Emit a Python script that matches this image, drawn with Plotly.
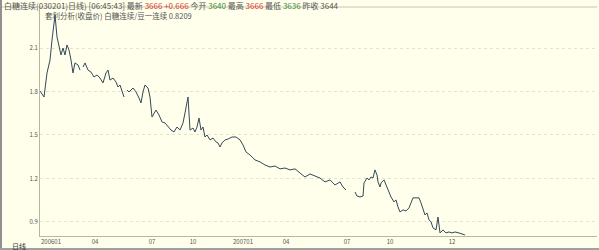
import plotly.graph_objects as go

# trading-day index and ratio (白糖连续 / 豆一连续 close)
day = [0,4,7,10,12,15,17,19,21,23,25,27,29,31,33,35,38,40,41,
       43,45,48,51,54,57,60,63,66,68,70,73,76,78,80,82,84,85,
       87,89,93,96,99,101,103,105,108,110,112,116,119,122,125,128,131,134,137,140,143,145,147,148,150,153,155,157,159,161,163,165,167,170,173,176,178,180,182,185,188,192,196,200,203,206,
       210,215,220,225,230,235,240,245,250,255,260,265,270,275,280,285,290,295,300,303,306,310,
       315,317,320,323,324,327,329,331,333,334,335,337,338,340,341,344,346,348,351,354,356,358,360,363,366,369,371,373,376,379,381,383,385,387,389,391,393,396,398,400,403,406,409,412,415,419,425]
ratio = [1.803,1.762,1.928,2.017,2.155,2.328,2.176,2.107,2.052,2.100,2.052,2.121,2.086,2.017,1.928,1.997,1.983,1.948,None,
         1.969,1.997,1.948,1.934,1.900,1.914,1.893,1.859,1.928,1.948,1.879,1.893,1.866,1.831,1.845,1.797,1.762,None,
         1.810,1.797,1.824,1.797,1.755,1.721,1.797,1.845,1.824,1.762,1.624,1.672,1.638,1.590,1.583,1.555,1.534,1.521,1.555,1.534,1.583,1.652,1.721,1.762,1.534,1.548,1.521,1.555,1.617,1.534,1.555,1.486,1.500,1.466,1.479,1.452,1.445,1.417,1.445,1.466,1.472,1.486,1.486,1.466,1.431,1.383,
         1.362,1.328,1.314,1.293,1.279,1.286,1.266,1.272,1.259,1.266,1.238,1.210,1.231,1.217,1.203,1.176,1.190,1.155,1.176,1.141,1.121,None,
         1.107,1.079,1.072,1.079,1.169,1.203,1.190,1.210,1.203,1.238,1.259,1.224,1.176,1.141,1.169,1.190,1.155,1.121,1.072,1.038,1.052,1.003,0.969,0.983,0.976,0.997,1.038,1.066,1.066,1.066,1.031,0.983,0.948,0.962,0.914,0.900,0.859,0.845,0.934,0.824,0.845,0.824,0.831,0.824,0.831,0.824,0.810]

tick_days = [11, 55, 112, 153, 203, 246, 307, 350, 412]
tick_text = ["200601", "04", "07", "10", "200701", "04", "07", "10", "12"]
y_ticks = [0.9, 1.2, 1.5, 1.8, 2.1]

BG = "#FFFFEB"
FONT = "Noto Sans CJK SC"

fig = go.Figure()
fig.add_trace(go.Scatter(x=day, y=ratio, mode="lines", connectgaps=False,
                         line=dict(color="#34485C", width=1), hoverinfo="skip"))

fig.update_layout(
    width=599, height=250,
    margin=dict(l=40, r=2, t=7, b=14),
    paper_bgcolor=BG, plot_bgcolor=BG,
    showlegend=False,
    font=dict(family=FONT, size=7, color="#555555"),
    xaxis=dict(range=[0, 557], tickvals=tick_days, ticktext=tick_text,
               showgrid=False, zeroline=False, showline=True, linecolor="#B8B8A0",
               linewidth=1, ticks="", tickfont=dict(size=6, color="#555555"),
               mirror=False),
    yaxis=dict(range=[0.803, 2.383], tickvals=y_ticks,
               ticktext=["2.1" if v == 2.1 else f"{v:.1f}" for v in y_ticks],
               showgrid=True, gridcolor="#E4E4C8", griddash="dot", gridwidth=1,
               zeroline=False, showline=True, linecolor="#B8B8A0", linewidth=1,
               ticks="", tickfont=dict(size=6, color="#555555")),
)

# header line 1
hdr1 = ("白糖连续(030201)日线) [06:45:43] 最新 <span style='color:#E03030'>3666 +0.666</span>"
        " 今开 <span style='color:#3A8A3A'>3640</span> 最高 <span style='color:#E03030'>3666</span>"
        " 最低 <span style='color:#3A8A3A'>3636</span> 昨收 3644")
fig.add_annotation(text=hdr1, xref="paper", yref="paper", x=-38/557, y=1.0, yshift=9,
                   xanchor="left", yanchor="top", showarrow=False,
                   font=dict(family=FONT, size=8, color="#555555"))
hdr2 = "套利分析(收盘价) 白糖连续/豆一连续 0.8209"
fig.add_annotation(text=hdr2, xref="paper", yref="paper", x=3/557, y=1.0, yshift=-1,
                   xanchor="left", yanchor="top", showarrow=False,
                   font=dict(family=FONT, size=7.5, color="#555555"))
fig.add_annotation(text="日线", xref="paper", yref="paper", x=-30/557, y=0, yshift=-3,
                   xanchor="left", yanchor="top", showarrow=False,
                   font=dict(family=FONT, size=7, color="#333333"))

# separator under header, left & bottom gray borders
fig.add_shape(type="line", xref="paper", yref="paper", x0=-40/557, x1=1, y0=1, y1=1,
              line=dict(color="#C8C8B0", width=1))
fig.add_shape(type="rect", xref="paper", yref="paper", x0=-40/557, x1=-38/557, y0=-14/229, y1=1.04,
              line=dict(width=0), fillcolor="#909090")
fig.add_shape(type="rect", xref="paper", yref="paper", x0=-40/557, x1=1.01, y0=-14/229, y1=-12/229,
              line=dict(width=0), fillcolor="#A0A0A0")

fig.write_html("out.html")
